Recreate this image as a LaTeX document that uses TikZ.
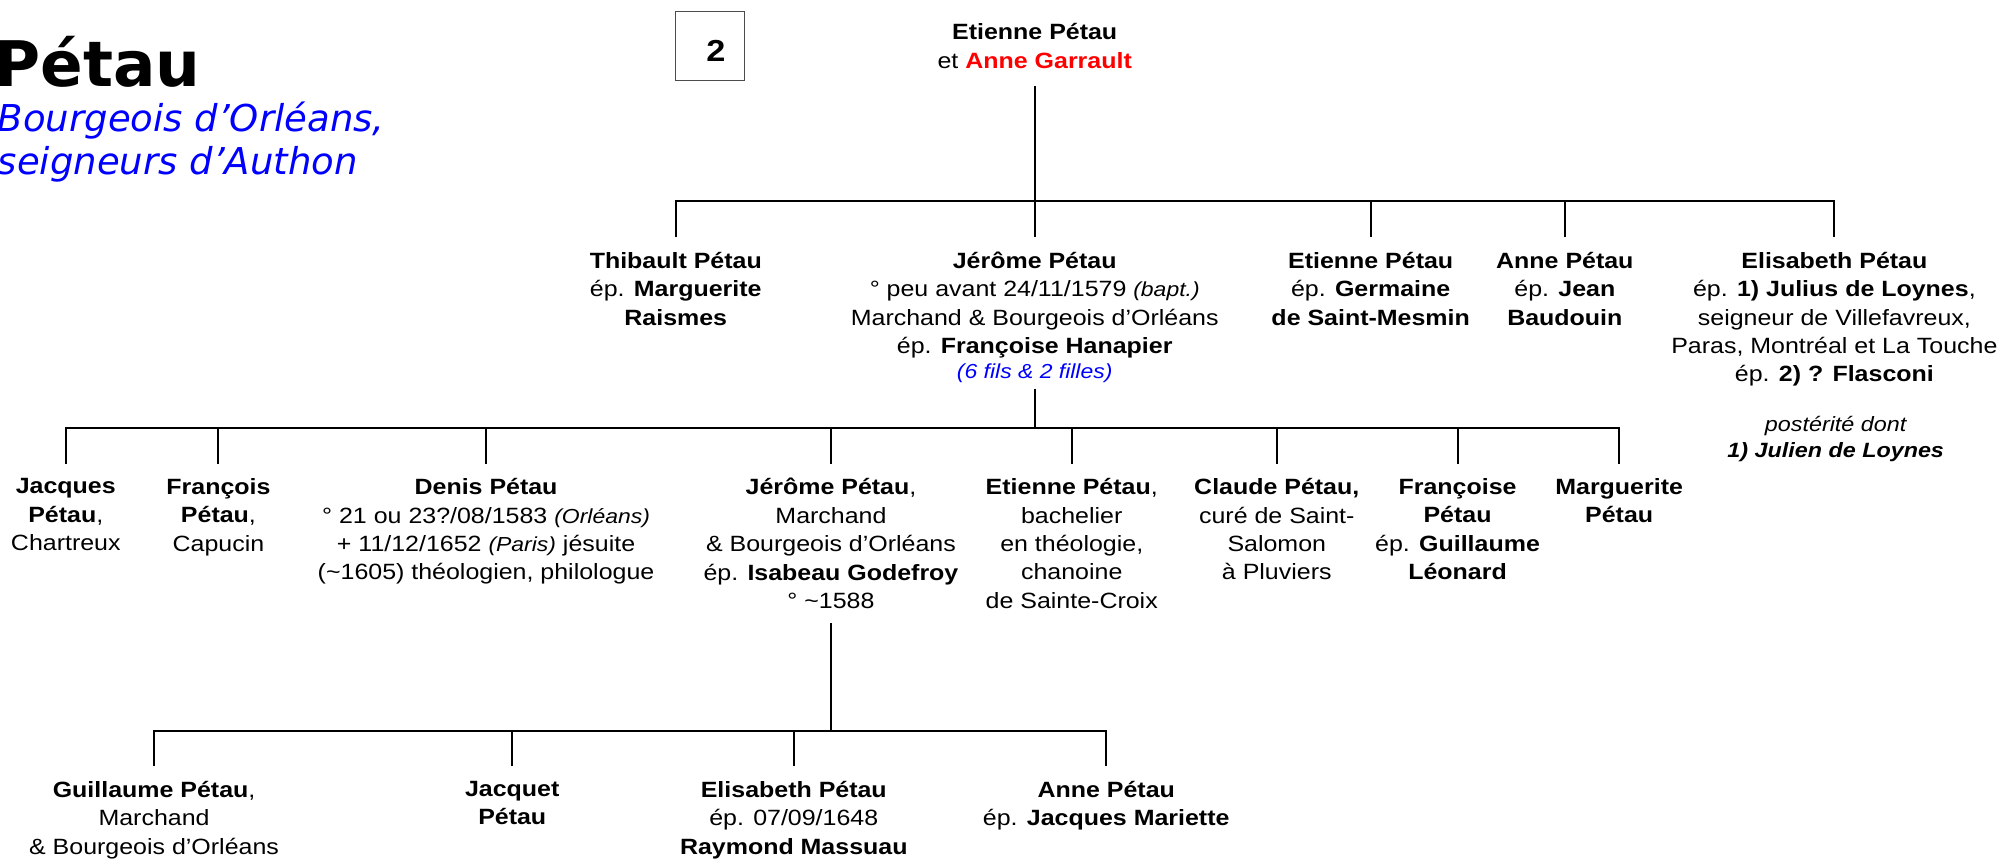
\documentclass[tikz,border=0pt]{standalone}
\usepackage{fontspec}
\setmainfont{Liberation Sans}[FakeStretch=1.13]
\newfontfamily\titlefont{DejaVu Sans}
\usetikzlibrary{positioning}
\definecolor{spousered}{RGB}{255,0,0}
\definecolor{noteblue}{RGB}{0,0,255}
\newcommand{\sm}[1]{{\fontsize{11.3}{12.5}\selectfont\itshape #1}}

\begin{document}
\begin{tikzpicture}[
    x=0.025cm, y=-0.025cm,
    person/.style={anchor=north, align=center, inner sep=0pt, outer ysep=8.2pt,
        font=\fontsize{12.3}{15.8}\selectfont},
    link/.style={line width=1.1pt},
    numbox/.style={draw=black!70, line width=0.6pt, minimum size=38.4pt, inner sep=0pt}
]
\useasboundingbox (0,0) rectangle (1568,672);

% title
\node[anchor=base west, inner sep=0pt, font=\titlefont\fontsize{35}{40}\selectfont\bfseries] (family) at (-4.5,67.9) {Pétau};
\node[anchor=base west, inner sep=0pt, align=left, text=noteblue, font=\titlefont\fontsize{20.6}{23.7}\selectfont\itshape] (motto) at (-2,136.4) {Bourgeois d’Orléans,\\seigneurs d’Authon};
\node[numbox] (panel) at (556,36) {};
\node[inner sep=0pt, font=\fontsize{16.9}{20}\selectfont\bfseries] (panelnum) at (560.5,39.8) {2};

% generation 0
\node[person] (root) at (810,6.9) {\textbf{Etienne Pétau}\\et \textbf{\color{spousered}Anne Garrault}};

% generation 1
\coordinate (bar1) at (810,157);
\node[person] (thibault) at (529,185.8) {\textbf{Thibault Pétau}\\ép. \textbf{Marguerite}\\\textbf{Raismes}};
\node[person] (jerome) at (810,185.8) {\textbf{Jérôme Pétau}\\° peu avant 24/11/1579 \sm{(bapt.)}\\Marchand \& Bourgeois d’Orléans\\ép. \textbf{Françoise Hanapier}\\[-1.9pt]{\color{noteblue}\sm{(6 fils \& 2 filles)}}};
\node[person] (etienne) at (1073,185.8) {\textbf{Etienne Pétau}\\ép. \textbf{Germaine}\\\textbf{de Saint-Mesmin}};
\node[person] (anne) at (1225,185.8) {\textbf{Anne Pétau}\\ép. \textbf{Jean}\\\textbf{Baudouin}};
\node[person] (elisabeth) at (1436,185.8) {\textbf{Elisabeth Pétau}\\ép. \textbf{1) Julius de Loynes},\\seigneur de Villefavreux,\\Paras, Montréal et La Touche\\ép. \textbf{2) ? Flasconi}};
\node[person, font=\fontsize{11.5}{14.2}\selectfont\itshape] (posterity) at (1437,314.7) {postérité dont\\\textbf{1) Julien de Loynes}};

\draw[link, shorten <=1.8pt] (root.south) -- (bar1);
\draw[link] (thibault.north) |- (bar1) -| (elisabeth.north);
\foreach \kid in {jerome, etienne, anne}
  \draw[link] (\kid.north) -- (\kid.north |- bar1);

% generation 2
\coordinate (bar2) at (810,335);
\node[person] (jacques) at (51.5,363) {\textbf{Jacques}\\\textbf{Pétau},\\Chartreux};
\node[person] (francois) at (171,363) {\textbf{François}\\\textbf{Pétau},\\Capucin};
\node[person] (denis) at (380.5,363) {\textbf{Denis Pétau}\\° 21 ou 23?/08/1583 \sm{(Orléans)}\\+ 11/12/1652 \sm{(Paris)} jésuite\\(\textasciitilde1605) théologien, philologue};
\node[person] (jeromeb) at (650.5,363) {\textbf{Jérôme Pétau},\\Marchand\\\& Bourgeois d’Orléans\\ép. \textbf{Isabeau Godefroy}\\° \textasciitilde1588};
\node[person] (etienneb) at (839,363) {\textbf{Etienne Pétau},\\bachelier\\en théologie,\\chanoine\\de Sainte-Croix};
\node[person] (claude) at (999.5,363) {\textbf{Claude Pétau,}\\curé de Saint-\\Salomon\\à Pluviers};
\node[person] (francoise) at (1141,363) {\textbf{Françoise}\\\textbf{Pétau}\\ép. \textbf{Guillaume}\\\textbf{Léonard}};
\node[person] (marguerite) at (1267.5,363) {\textbf{Marguerite}\\\textbf{Pétau}};

\draw[link, shorten <=-5pt] (jerome.south) -- (bar2);
\draw[link] (jacques.north) |- (bar2) -| (marguerite.north);
\foreach \kid in {francois, denis, jeromeb, etienneb, claude, francoise}
  \draw[link] (\kid.north) -- (\kid.north |- bar2);

% generation 3
\coordinate (bar3) at (650.5,572);
\node[person] (guillaume) at (120.6,600) {\textbf{Guillaume Pétau},\\Marchand\\\& Bourgeois d’Orléans};
\node[person] (jacquet) at (401,600) {\textbf{Jacquet}\\\textbf{Pétau}};
\node[person] (elisabethb) at (621.4,600) {\textbf{Elisabeth Pétau}\\ép. 07/09/1648\\\textbf{Raymond Massuau}};
\node[person] (anneb) at (866,600) {\textbf{Anne Pétau}\\ép. \textbf{Jacques Mariette}};

\draw[link] (jeromeb.south) -- (bar3);
\draw[link] (guillaume.north) |- (bar3) -| (anneb.north);
\foreach \kid in {jacquet, elisabethb}
  \draw[link] (\kid.north) -- (\kid.north |- bar3);
\end{tikzpicture}
\end{document}
